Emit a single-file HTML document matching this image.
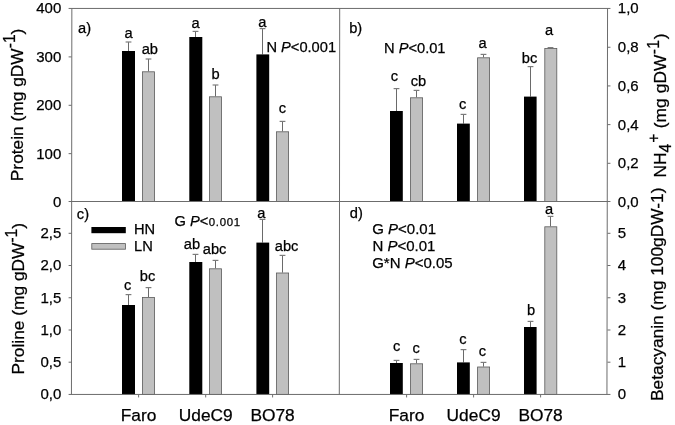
<!DOCTYPE html>
<html><head><meta charset="utf-8"><title>chart</title>
<style>
html,body{margin:0;padding:0;background:#fff;}
body{width:675px;height:425px;overflow:hidden;}
svg{display:block;filter:blur(0.35px);}
text{font-family:"Liberation Sans",sans-serif;fill:#000;stroke:#000;stroke-width:0.25px;}
.t{font-size:15.0px;}
.n{font-size:14.67px;}
.l{font-size:17.33px;}
.x{font-size:17.33px;}
.i{font-style:italic;}
</style></head><body>
<svg width="675" height="425" viewBox="0 0 675 425">
<rect x="0" y="0" width="675" height="425" fill="#ffffff"/>
<line x1="128.50" y1="42.00" x2="128.50" y2="51.00" stroke="#444444" stroke-width="0.8"/>
<line x1="125.60" y1="42.00" x2="131.40" y2="42.00" stroke="#7c7c7c" stroke-width="1.2"/>
<rect x="122.00" y="51.00" width="13.00" height="150.50" fill="#000"/>
<line x1="148.50" y1="59.00" x2="148.50" y2="71.40" stroke="#444444" stroke-width="0.8"/>
<line x1="145.60" y1="59.00" x2="151.40" y2="59.00" stroke="#7c7c7c" stroke-width="1.2"/>
<rect x="142.40" y="71.80" width="12.20" height="129.70" fill="#c0c0c0" stroke="#5a5a5a" stroke-width="0.8"/>
<line x1="195.50" y1="31.40" x2="195.50" y2="37.00" stroke="#444444" stroke-width="0.8"/>
<line x1="192.60" y1="31.40" x2="198.40" y2="31.40" stroke="#7c7c7c" stroke-width="1.2"/>
<rect x="189.30" y="37.00" width="13.00" height="164.50" fill="#000"/>
<line x1="215.50" y1="85.00" x2="215.50" y2="96.40" stroke="#444444" stroke-width="0.8"/>
<line x1="212.60" y1="85.00" x2="218.40" y2="85.00" stroke="#7c7c7c" stroke-width="1.2"/>
<rect x="209.40" y="96.80" width="12.20" height="104.70" fill="#c0c0c0" stroke="#5a5a5a" stroke-width="0.8"/>
<line x1="262.50" y1="28.60" x2="262.50" y2="54.40" stroke="#444444" stroke-width="0.8"/>
<line x1="259.60" y1="28.60" x2="265.40" y2="28.60" stroke="#7c7c7c" stroke-width="1.2"/>
<rect x="256.40" y="54.40" width="12.80" height="147.10" fill="#000"/>
<line x1="282.50" y1="121.40" x2="282.50" y2="131.40" stroke="#444444" stroke-width="0.8"/>
<line x1="279.60" y1="121.40" x2="285.40" y2="121.40" stroke="#7c7c7c" stroke-width="1.2"/>
<rect x="276.40" y="131.80" width="12.20" height="69.70" fill="#c0c0c0" stroke="#5a5a5a" stroke-width="0.8"/>
<line x1="396.50" y1="88.60" x2="396.50" y2="111.00" stroke="#444444" stroke-width="0.8"/>
<line x1="393.60" y1="88.60" x2="399.40" y2="88.60" stroke="#7c7c7c" stroke-width="1.2"/>
<rect x="390.00" y="111.00" width="12.80" height="90.50" fill="#000"/>
<line x1="416.50" y1="90.40" x2="416.50" y2="97.40" stroke="#444444" stroke-width="0.8"/>
<line x1="413.60" y1="90.40" x2="419.40" y2="90.40" stroke="#7c7c7c" stroke-width="1.2"/>
<rect x="410.40" y="97.80" width="12.20" height="103.70" fill="#c0c0c0" stroke="#5a5a5a" stroke-width="0.8"/>
<line x1="463.50" y1="114.40" x2="463.50" y2="123.60" stroke="#444444" stroke-width="0.8"/>
<line x1="460.60" y1="114.40" x2="466.40" y2="114.40" stroke="#7c7c7c" stroke-width="1.2"/>
<rect x="457.00" y="123.60" width="12.80" height="77.90" fill="#000"/>
<line x1="483.50" y1="54.40" x2="483.50" y2="57.40" stroke="#444444" stroke-width="0.8"/>
<line x1="480.60" y1="54.40" x2="486.40" y2="54.40" stroke="#7c7c7c" stroke-width="1.2"/>
<rect x="477.60" y="57.80" width="12.00" height="143.70" fill="#c0c0c0" stroke="#5a5a5a" stroke-width="0.8"/>
<line x1="530.50" y1="66.60" x2="530.50" y2="96.60" stroke="#444444" stroke-width="0.8"/>
<line x1="527.60" y1="66.60" x2="533.40" y2="66.60" stroke="#7c7c7c" stroke-width="1.2"/>
<rect x="524.00" y="96.60" width="12.60" height="104.90" fill="#000"/>
<line x1="550.50" y1="47.60" x2="550.50" y2="48.00" stroke="#444444" stroke-width="0.8"/>
<line x1="547.60" y1="47.60" x2="553.40" y2="47.60" stroke="#7c7c7c" stroke-width="1.2"/>
<rect x="544.80" y="48.40" width="12.00" height="153.10" fill="#c0c0c0" stroke="#5a5a5a" stroke-width="0.8"/>
<line x1="128.50" y1="294.60" x2="128.50" y2="305.00" stroke="#444444" stroke-width="0.8"/>
<line x1="125.60" y1="294.60" x2="131.40" y2="294.60" stroke="#7c7c7c" stroke-width="1.2"/>
<rect x="122.00" y="305.00" width="13.00" height="89.45" fill="#000"/>
<line x1="148.50" y1="287.60" x2="148.50" y2="297.00" stroke="#444444" stroke-width="0.8"/>
<line x1="145.60" y1="287.60" x2="151.40" y2="287.60" stroke="#7c7c7c" stroke-width="1.2"/>
<rect x="142.40" y="297.40" width="12.20" height="97.05" fill="#c0c0c0" stroke="#5a5a5a" stroke-width="0.8"/>
<line x1="195.50" y1="254.40" x2="195.50" y2="262.00" stroke="#444444" stroke-width="0.8"/>
<line x1="192.60" y1="254.40" x2="198.40" y2="254.40" stroke="#7c7c7c" stroke-width="1.2"/>
<rect x="189.30" y="262.00" width="13.00" height="132.45" fill="#000"/>
<line x1="215.50" y1="260.40" x2="215.50" y2="268.40" stroke="#444444" stroke-width="0.8"/>
<line x1="212.60" y1="260.40" x2="218.40" y2="260.40" stroke="#7c7c7c" stroke-width="1.2"/>
<rect x="209.40" y="268.80" width="12.20" height="125.65" fill="#c0c0c0" stroke="#5a5a5a" stroke-width="0.8"/>
<line x1="262.50" y1="219.40" x2="262.50" y2="242.60" stroke="#444444" stroke-width="0.8"/>
<line x1="259.60" y1="219.40" x2="265.40" y2="219.40" stroke="#7c7c7c" stroke-width="1.2"/>
<rect x="256.40" y="242.60" width="12.80" height="151.85" fill="#000"/>
<line x1="282.50" y1="255.40" x2="282.50" y2="272.60" stroke="#444444" stroke-width="0.8"/>
<line x1="279.60" y1="255.40" x2="285.40" y2="255.40" stroke="#7c7c7c" stroke-width="1.2"/>
<rect x="276.40" y="273.00" width="12.20" height="121.45" fill="#c0c0c0" stroke="#5a5a5a" stroke-width="0.8"/>
<line x1="396.50" y1="360.40" x2="396.50" y2="363.00" stroke="#444444" stroke-width="0.8"/>
<line x1="393.60" y1="360.40" x2="399.40" y2="360.40" stroke="#7c7c7c" stroke-width="1.2"/>
<rect x="390.00" y="363.00" width="12.80" height="31.45" fill="#000"/>
<line x1="416.50" y1="359.40" x2="416.50" y2="363.40" stroke="#444444" stroke-width="0.8"/>
<line x1="413.60" y1="359.40" x2="419.40" y2="359.40" stroke="#7c7c7c" stroke-width="1.2"/>
<rect x="410.40" y="363.80" width="12.20" height="30.65" fill="#c0c0c0" stroke="#5a5a5a" stroke-width="0.8"/>
<line x1="463.50" y1="349.60" x2="463.50" y2="362.40" stroke="#444444" stroke-width="0.8"/>
<line x1="460.60" y1="349.60" x2="466.40" y2="349.60" stroke="#7c7c7c" stroke-width="1.2"/>
<rect x="457.00" y="362.40" width="12.80" height="32.05" fill="#000"/>
<line x1="483.50" y1="362.40" x2="483.50" y2="366.60" stroke="#444444" stroke-width="0.8"/>
<line x1="480.60" y1="362.40" x2="486.40" y2="362.40" stroke="#7c7c7c" stroke-width="1.2"/>
<rect x="477.60" y="367.00" width="12.00" height="27.45" fill="#c0c0c0" stroke="#5a5a5a" stroke-width="0.8"/>
<line x1="530.50" y1="321.40" x2="530.50" y2="327.00" stroke="#444444" stroke-width="0.8"/>
<line x1="527.60" y1="321.40" x2="533.40" y2="321.40" stroke="#7c7c7c" stroke-width="1.2"/>
<rect x="524.00" y="327.00" width="12.60" height="67.45" fill="#000"/>
<line x1="550.50" y1="216.40" x2="550.50" y2="226.40" stroke="#444444" stroke-width="0.8"/>
<line x1="547.60" y1="216.40" x2="553.40" y2="216.40" stroke="#7c7c7c" stroke-width="1.2"/>
<rect x="544.80" y="226.80" width="12.00" height="167.65" fill="#c0c0c0" stroke="#5a5a5a" stroke-width="0.8"/>
<g stroke="#6c6c6c" stroke-width="1.0" fill="none">
<line x1="68.60" y1="8.45" x2="610.45" y2="8.45"/>
<line x1="68.60" y1="201.50" x2="610.45" y2="201.50"/>
<line x1="68.60" y1="394.45" x2="610.45" y2="394.45"/>
<line x1="71.85" y1="8.45" x2="71.45" y2="394.45"/>
<line x1="339.70" y1="8.45" x2="339.30" y2="394.45"/>
<line x1="607.55" y1="8.45" x2="606.95" y2="394.45"/>
<line x1="68.60" y1="56.90" x2="71.60" y2="56.90"/>
<line x1="68.60" y1="105.30" x2="71.60" y2="105.30"/>
<line x1="68.60" y1="153.65" x2="71.60" y2="153.65"/>
<line x1="68.60" y1="362.20" x2="71.60" y2="362.20"/>
<line x1="68.60" y1="330.00" x2="71.60" y2="330.00"/>
<line x1="68.60" y1="297.75" x2="71.60" y2="297.75"/>
<line x1="68.60" y1="265.50" x2="71.60" y2="265.50"/>
<line x1="68.60" y1="233.30" x2="71.60" y2="233.30"/>
<line x1="607.45" y1="47.25" x2="610.45" y2="47.25"/>
<line x1="607.45" y1="85.93" x2="610.45" y2="85.93"/>
<line x1="607.45" y1="124.62" x2="610.45" y2="124.62"/>
<line x1="607.45" y1="163.30" x2="610.45" y2="163.30"/>
<line x1="607.45" y1="362.20" x2="610.45" y2="362.20"/>
<line x1="607.45" y1="330.00" x2="610.45" y2="330.00"/>
<line x1="607.45" y1="297.75" x2="610.45" y2="297.75"/>
<line x1="607.45" y1="265.50" x2="610.45" y2="265.50"/>
<line x1="607.45" y1="233.30" x2="610.45" y2="233.30"/>
</g>
<g stroke="#707070" stroke-width="1">
<line x1="138.60" y1="394.45" x2="138.60" y2="397.45"/>
<line x1="205.70" y1="394.45" x2="205.70" y2="397.45"/>
<line x1="272.60" y1="394.45" x2="272.60" y2="397.45"/>
<line x1="406.60" y1="394.45" x2="406.60" y2="397.45"/>
<line x1="473.60" y1="394.45" x2="473.60" y2="397.45"/>
<line x1="540.60" y1="394.45" x2="540.60" y2="397.45"/>
</g>
<text class="t" x="61.3" y="13.45" text-anchor="end">400</text>
<text class="t" x="61.3" y="61.80" text-anchor="end">300</text>
<text class="t" x="61.3" y="110.20" text-anchor="end">200</text>
<text class="t" x="61.3" y="158.55" text-anchor="end">100</text>
<text class="t" x="61.3" y="206.90" text-anchor="end">0</text>
<text class="t" x="61.3" y="367.10" text-anchor="end">0,5</text>
<text class="t" x="61.3" y="334.90" text-anchor="end">1,0</text>
<text class="t" x="61.3" y="302.65" text-anchor="end">1,5</text>
<text class="t" x="61.3" y="270.40" text-anchor="end">2,0</text>
<text class="t" x="61.3" y="238.20" text-anchor="end">2,5</text>
<text class="t" x="61.3" y="399.35" text-anchor="end">0,0</text>
<text class="t" x="617.8" y="13.45">1,0</text>
<text class="t" x="617.8" y="52.15">0,8</text>
<text class="t" x="617.8" y="90.83">0,6</text>
<text class="t" x="617.8" y="129.52">0,4</text>
<text class="t" x="617.8" y="168.20">0,2</text>
<text class="t" x="617.8" y="206.90">0,0</text>
<text class="t" x="617.8" y="399.34">0</text>
<text class="t" x="617.8" y="367.10">1</text>
<text class="t" x="617.8" y="334.90">2</text>
<text class="t" x="617.8" y="302.65">3</text>
<text class="t" x="617.8" y="270.40">4</text>
<text class="t" x="617.8" y="238.20">5</text>
<text class="x" x="138.60" y="420.9" text-anchor="middle">Faro</text>
<text class="x" x="205.80" y="420.9" text-anchor="middle">UdeC9</text>
<text class="x" x="272.60" y="420.9" text-anchor="middle">BO78</text>
<text class="x" x="406.60" y="420.9" text-anchor="middle">Faro</text>
<text class="x" x="473.60" y="420.9" text-anchor="middle">UdeC9</text>
<text class="x" x="540.60" y="420.9" text-anchor="middle">BO78</text>
<text class="n" x="128.60" y="37.60" text-anchor="middle">a</text>
<text class="n" x="149.80" y="54.40" text-anchor="middle">ab</text>
<text class="n" x="195.70" y="28.30" text-anchor="middle">a</text>
<text class="n" x="215.50" y="79.10" text-anchor="middle">b</text>
<text class="n" x="262.40" y="26.60" text-anchor="middle">a</text>
<text class="n" x="282.30" y="113.40" text-anchor="middle">c</text>
<text class="n" x="394.50" y="81.00" text-anchor="middle">c</text>
<text class="n" x="418.40" y="86.00" text-anchor="middle">cb</text>
<text class="n" x="462.70" y="108.60" text-anchor="middle">c</text>
<text class="n" x="482.60" y="47.60" text-anchor="middle">a</text>
<text class="n" x="529.60" y="63.00" text-anchor="middle">bc</text>
<text class="n" x="549.00" y="35.00" text-anchor="middle">a</text>
<text class="n" x="127.70" y="290.20" text-anchor="middle">c</text>
<text class="n" x="147.60" y="281.10" text-anchor="middle">bc</text>
<text class="n" x="192.00" y="249.40" text-anchor="middle">ab</text>
<text class="n" x="214.60" y="254.00" text-anchor="middle">abc</text>
<text class="n" x="261.40" y="217.90" text-anchor="middle">a</text>
<text class="n" x="286.60" y="250.70" text-anchor="middle">abc</text>
<text class="n" x="396.70" y="351.40" text-anchor="middle">c</text>
<text class="n" x="416.20" y="352.60" text-anchor="middle">c</text>
<text class="n" x="462.80" y="344.00" text-anchor="middle">c</text>
<text class="n" x="482.30" y="356.00" text-anchor="middle">c</text>
<text class="n" x="531.00" y="315.00" text-anchor="middle">b</text>
<text class="n" x="549.00" y="213.60" text-anchor="middle">a</text>
<text class="n" x="78.1" y="33.4">a)</text>
<text class="n" x="349.2" y="33">b)</text>
<text class="n" x="76.8" y="219">c)</text>
<text class="n" x="349.8" y="218.4">d)</text>
<text class="n" x="266.4" y="51.6">N <tspan class="i">P</tspan>&lt;0.001</text>
<text class="n" x="384" y="53">N <tspan class="i">P</tspan>&lt;0.01</text>
<text class="n" x="174.5" y="226.4">G <tspan class="i">P</tspan>&lt;<tspan font-size="11.4" letter-spacing="0.7" dx="0.5">0.001</tspan></text>
<text class="t" x="372.2" y="234.2">G <tspan class="i">P</tspan>&lt;0.01</text>
<text class="t" x="372.4" y="251.2">N <tspan class="i">P</tspan>&lt;0.01</text>
<text class="t" x="372.2" y="267.6">G*N <tspan class="i">P</tspan>&lt;0.05</text>
<rect x="91.4" y="227" width="34.4" height="6.2" fill="#000"/>
<rect x="91.8" y="243.6" width="33.6" height="5.6" fill="#c0c0c0" stroke="#5a5a5a" stroke-width="0.8"/>
<text class="n" x="134" y="234.4">HN</text>
<text class="n" x="134" y="251">LN</text>
<text class="l" transform="translate(22.8,181.2) rotate(-90)">Protein (mg gDW<tspan font-size="15.6" dy="-7.6">-1</tspan><tspan dy="7.6">)</tspan></text>
<text class="l" transform="translate(24.4,374.5) rotate(-90)">Proline (mg gDW<tspan font-size="15.6" dy="-7.6">-1</tspan><tspan dy="7.6">)</tspan></text>
<text class="l" transform="translate(666.4,177.5) rotate(-90)">NH<tspan font-size="15.6" dy="4.8">4</tspan><tspan font-size="15.6" dy="-12.399999999999999" dx="1.0">+</tspan><tspan dy="7.6" dx="0.5" letter-spacing="0.08"> (mg gDW</tspan><tspan font-size="15.6" dy="-7.6" dx="0.3" letter-spacing="0.3">-1</tspan><tspan dy="7.6" dx="0.5">)</tspan></text>
<text class="l" transform="translate(663.2,401.0) rotate(-90)">Betacyanin (mg 100gDW-1)</text>
</svg>
</body></html>
